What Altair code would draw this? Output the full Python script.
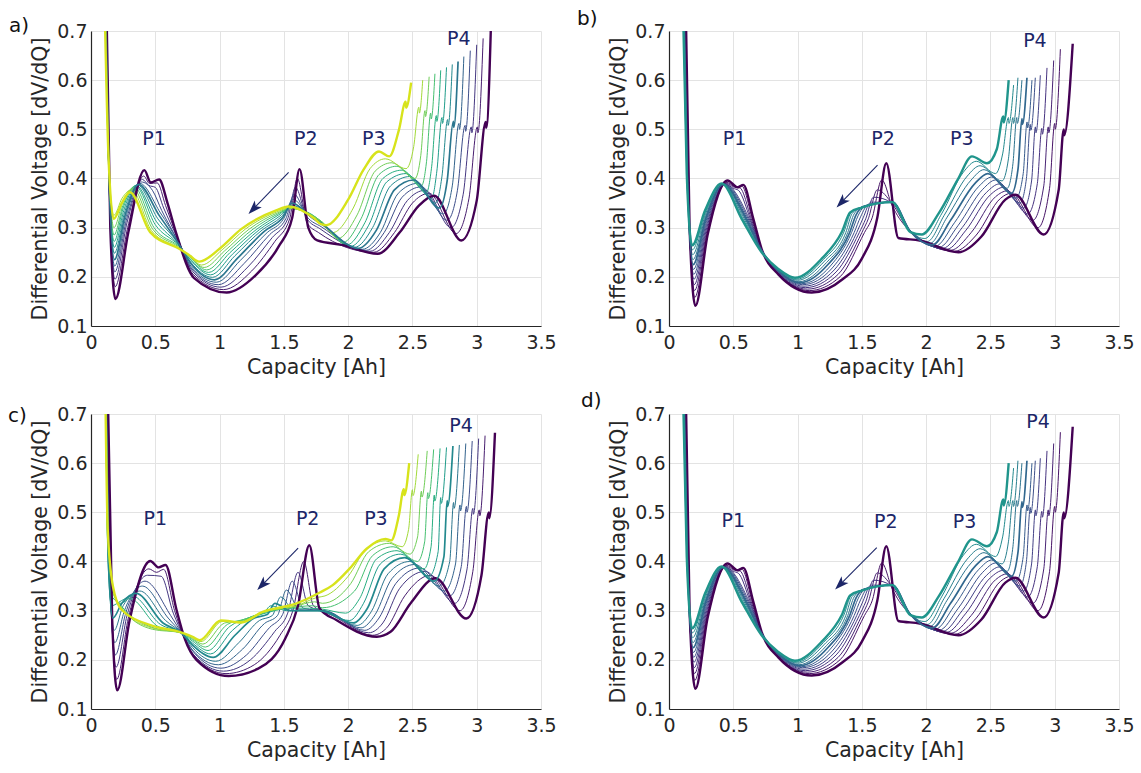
import math
import pandas as pd
import altair as alt

# ----------------------------------------------------------------------------
# Panel a : 13 curves (fresh -> aged), key points
# ----------------------------------------------------------------------------
A_TOP_X  = [0.118, 0.116, 0.114, 0.113, 0.112, 0.111, 0.110, 0.109, 0.108, 0.107, 0.106, 0.105, 0.104]
A_TOP_Y  = [0.78, 0.78, 0.78, 0.78, 0.78, 0.78, 0.78, 0.78, 0.78, 0.78, 0.78, 0.78, 0.78]
A_DROP_X = [0.150, 0.148, 0.146, 0.145, 0.144, 0.143, 0.142, 0.141, 0.140, 0.139, 0.138, 0.137, 0.136]
A_DROP_Y = [0.300, 0.330, 0.345, 0.355, 0.365, 0.375, 0.385, 0.395, 0.405, 0.415, 0.425, 0.435, 0.445]
A_MIN1_X = [0.190, 0.188, 0.186, 0.185, 0.184, 0.183, 0.182, 0.181, 0.180, 0.179, 0.178, 0.177, 0.176]
A_MIN1_Y = [0.155, 0.180, 0.195, 0.210, 0.222, 0.235, 0.248, 0.260, 0.272, 0.285, 0.300, 0.325, 0.318]
A_R1_X   = [0.290, 0.285, 0.280, 0.275, 0.270, 0.265, 0.260, 0.255, 0.250, 0.248, 0.245, 0.242, 0.240]
A_R1_Y   = [0.290, 0.300, 0.310, 0.315, 0.320, 0.325, 0.330, 0.335, 0.340, 0.345, 0.350, 0.360, 0.350]
A_P1_X   = [0.415, 0.410, 0.400, 0.390, 0.380, 0.370, 0.360, 0.350, 0.345, 0.335, 0.325, 0.315, 0.303]
A_P1_Y   = [0.417, 0.405, 0.398, 0.393, 0.390, 0.388, 0.387, 0.386, 0.385, 0.383, 0.380, 0.377, 0.372]
A_SD_X   = [0.465, 0.455, 0.450, None, None, None, None, None, None, None, None, None, None]
A_SD_Y   = [0.392, 0.390, 0.386, None, None, None, None, None, None, None, None, None, None]
A_SP_X   = [0.530, 0.515, 0.500, 0.480, None, None, None, None, None, None, None, None, None]
A_SP_Y   = [0.398, 0.391, 0.382, 0.375, None, None, None, None, None, None, None, None, None]
A_D1_X   = [0.595, 0.580, 0.565, 0.550, 0.540, 0.530, 0.520, 0.510, 0.500, 0.490, 0.480, 0.470, 0.460]
A_D1_Y   = [0.350, 0.345, 0.340, 0.335, 0.330, 0.325, 0.318, 0.312, 0.306, 0.300, 0.297, 0.294, 0.291]
A_D2_X   = [0.660, 0.665, 0.670, 0.670, 0.675, 0.675, 0.680, 0.680, 0.682, 0.684, 0.685, 0.686, 0.686]
A_D2_Y   = [0.291, 0.285, 0.280, 0.276, 0.273, 0.270, 0.268, 0.266, 0.264, 0.262, 0.260, 0.258, 0.257]
A_D3_X   = [0.800, 0.795, 0.790, 0.785, 0.780, 0.780, 0.775, 0.775, 0.770, 0.770, 0.765, 0.760, 0.760]
A_D3_Y   = [0.198, 0.205, 0.211, 0.216, 0.221, 0.226, 0.230, 0.234, 0.237, 0.240, 0.242, 0.244, 0.245]
A_V1_X   = [1.055, 1.030, 1.010, 0.990, 0.975, 0.960, 0.945, 0.930, 0.915, 0.900, 0.880, 0.860, 0.842]
A_V1_Y   = [0.168, 0.174, 0.179, 0.184, 0.189, 0.194, 0.199, 0.204, 0.209, 0.214, 0.219, 0.224, 0.231]
A_R2A_X  = [1.280, 1.250, 1.220, 1.190, 1.160, 1.140, 1.120, 1.100, 1.080, 1.060, 1.040, 1.020, 1.000]
A_R2A_Y  = [0.203, 0.212, 0.220, 0.227, 0.233, 0.238, 0.243, 0.246, 0.249, 0.251, 0.253, 0.255, 0.257]
A_R2B_X  = [1.460, 1.430, 1.410, 1.390, 1.370, 1.350, 1.330, 1.310, 1.290, 1.260, 1.230, 1.200, 1.168]
A_R2B_Y  = [0.262, 0.272, 0.280, 0.286, 0.290, 0.293, 0.295, 0.296, 0.297, 0.297, 0.297, 0.297, 0.297]
A_R2C_X  = [1.565, 1.545, 1.530, 1.515, 1.500, 1.490, 1.480, 1.470, 1.460, 1.455, 1.450, 1.445, 1.440]
A_R2C_Y  = [0.320, 0.318, 0.318, 0.318, 0.319, 0.320, 0.322, 0.324, 0.326, 0.328, 0.330, 0.332, 0.335]
A_P2_X   = [1.622, 1.605, 1.590, 1.580, 1.570, 1.565, 1.560, 1.555, 1.550, 1.548, 1.545, 1.540, 1.537]
A_P2_Y   = [0.419, 0.400, 0.382, 0.368, 0.358, 0.350, 0.345, 0.342, 0.340, 0.339, 0.339, 0.340, 0.343]
A_PP1_X  = [1.690, 1.680, 1.680, 1.680, 1.690, 1.690, 1.700, 1.700, 1.710, 1.710, 1.720, 1.730, 1.740]
A_PP1_Y  = [0.300, 0.310, 0.318, 0.322, 0.325, 0.327, 0.328, 0.328, 0.328, 0.327, 0.325, 0.322, 0.318]
A_PP2_X  = [1.760, 1.770, 1.780, 1.790, 1.800, 1.800, 1.800, 1.800, 1.800, 1.800, 1.800, 1.790, 1.790]
A_PP2_Y  = [0.274, 0.290, 0.298, 0.302, 0.305, 0.307, 0.308, 0.309, 0.310, 0.311, 0.311, 0.309, 0.307]
A_PL_X   = [1.950, None, None, None, None, None, None, None, None, None, None, None, None]
A_PL_Y   = [0.265, None, None, None, None, None, None, None, None, None, None, None, None]
A_V2_X   = [2.230, 2.200, 2.170, 2.140, 2.110, 2.080, 2.050, 2.020, 1.990, 1.960, 1.920, 1.880, 1.830]
A_V2_Y   = [0.247, 0.250, 0.252, 0.254, 0.256, 0.258, 0.260, 0.262, 0.265, 0.270, 0.278, 0.290, 0.305]
A_R3A_X  = [2.400, 2.360, 2.320, 2.280, 2.250, 2.220, 2.190, 2.160, 2.130, 2.100, 2.070, 2.040, 2.000]
A_R3A_Y  = [0.290, 0.290, 0.290, 0.290, 0.290, 0.295, 0.300, 0.305, 0.310, 0.318, 0.326, 0.340, 0.357]
A_R3B_X  = [2.550, 2.500, 2.460, 2.420, 2.390, 2.360, 2.330, 2.300, 2.270, 2.240, 2.210, 2.170, 2.120]
A_R3B_Y  = [0.345, 0.350, 0.355, 0.362, 0.370, 0.377, 0.385, 0.393, 0.400, 0.408, 0.415, 0.420, 0.418]
A_H_X    = [2.670, 2.630, 2.600, 2.570, 2.540, 2.510, 2.480, 2.450, 2.420, 2.380, 2.340, 2.290, 2.240]
A_H_Y    = [0.365, 0.370, 0.376, 0.383, 0.390, 0.397, 0.404, 0.410, 0.417, 0.425, 0.432, 0.440, 0.455]
A_V3_X   = [2.880, 2.840, 2.800, 2.770, 2.740, 2.710, 2.680, 2.650, 2.610, 2.570, 2.520, 2.450, 2.320]
A_V3_Y   = [0.274, 0.288, 0.300, 0.315, 0.328, 0.340, 0.350, 0.360, 0.372, 0.385, 0.400, 0.420, 0.445]
A_R4_X   = [3.000, 2.940, 2.895, 2.850, 2.810, 2.770, 2.730, 2.690, 2.650, 2.610, 2.565, 2.510, 2.395]
A_R4_Y   = [0.355, 0.360, 0.368, 0.376, 0.385, 0.395, 0.405, 0.415, 0.425, 0.435, 0.447, 0.465, 0.499]
A_J_X    = [3.070, 3.005, 2.958, 2.910, 2.862, 2.818, 2.774, 2.730, 2.686, 2.642, 2.598, 2.550, 2.447]
A_J_Y    = [0.515, 0.505, 0.505, 0.508, 0.512, 0.516, 0.520, 0.524, 0.528, 0.533, 0.538, 0.545, 0.556]
A_J2_X   = [3.074, 3.009, 2.962, 2.914, 2.866, 2.822, 2.778, 2.734, 2.690, 2.646, 2.602, 2.554, 2.451]
A_J2_Y   = [0.503, 0.493, 0.493, 0.496, 0.500, 0.504, 0.508, 0.512, 0.516, 0.521, 0.526, 0.533, 0.544]
A_E_X    = [3.118, 3.050, 3.000, 2.950, 2.900, 2.855, 2.810, 2.765, 2.720, 2.675, 2.630, 2.580, 2.490]
A_E_Y    = [0.780, 0.685, 0.672, 0.660, 0.648, 0.638, 0.632, 0.626, 0.620, 0.613, 0.607, 0.600, 0.595]

# ----------------------------------------------------------------------------
# Panel c : 13 curves
# ----------------------------------------------------------------------------
C_TOP_X  = [0.128, 0.125, 0.122, 0.120, 0.118, 0.116, 0.115, 0.114, 0.113, 0.112, 0.112, 0.111, 0.110]
C_TOP_Y  = [0.78, 0.78, 0.78, 0.78, 0.78, 0.78, 0.78, 0.78, 0.78, 0.78, 0.78, 0.78, 0.78]
C_DROP_X = [0.165, 0.160, 0.155, 0.150, 0.145, 0.140, 0.135, 0.130, 0.130, 0.130, 0.130, 0.130, 0.130]
C_DROP_Y = [0.280, 0.300, 0.320, 0.340, 0.360, 0.380, 0.400, 0.420, 0.430, 0.440, 0.450, 0.460, 0.466]
C_MIN1_X = [0.204, 0.200, 0.195, 0.190, 0.185, 0.180, 0.170, 0.160, 0.160, 0.165, 0.170, 0.170, 0.170]
C_MIN1_Y = [0.138, 0.160, 0.185, 0.210, 0.235, 0.260, 0.285, 0.310, 0.330, 0.340, 0.345, 0.350, 0.350]
C_R1_X   = [0.300, 0.290, 0.280, 0.270, 0.260, 0.250, 0.240, 0.235, 0.235, 0.235, 0.235, 0.235, 0.235]
C_R1_Y   = [0.280, 0.285, 0.290, 0.295, 0.300, 0.310, 0.315, 0.320, 0.315, 0.310, 0.307, 0.305, 0.303]
C_P1_X   = [0.461, 0.450, 0.440, 0.420, 0.400, 0.380, 0.350, 0.320, 0.300, None, None, None, None]
C_P1_Y   = [0.401, 0.385, 0.372, 0.360, 0.350, 0.340, 0.335, 0.330, 0.325, None, None, None, None]
C_SD_X   = [0.526, 0.510, None, None, None, None, None, None, None, None, None, None, None]
C_SD_Y   = [0.388, 0.378, None, None, None, None, None, None, None, None, None, None, None]
C_SP_X   = [0.580, 0.565, 0.545, None, None, None, None, None, None, None, None, None, None]
C_SP_Y   = [0.393, 0.384, 0.370, None, None, None, None, None, None, None, None, None, None]
C_D1_X   = [0.664, 0.650, 0.640, 0.620, 0.600, 0.580, 0.560, 0.540, 0.520, 0.500, 0.480, 0.470, 0.469]
C_D1_Y   = [0.303, 0.300, 0.295, 0.290, 0.285, 0.280, 0.275, 0.272, 0.268, 0.264, 0.262, 0.265, 0.270]
C_D2_X   = [0.729, 0.725, 0.720, 0.715, 0.710, 0.710, 0.705, 0.700, 0.700, 0.700, 0.700, 0.700, 0.700]
C_D2_Y   = [0.243, 0.245, 0.248, 0.250, 0.252, 0.253, 0.254, 0.255, 0.255, 0.255, 0.255, 0.255, 0.256]
C_D3_X   = [0.820, 0.810, 0.800, 0.800, 0.790, 0.790, 0.790, 0.790, 0.790, 0.790, 0.790, 0.790, 0.790]
C_D3_Y   = [0.200, 0.205, 0.210, 0.215, 0.220, 0.225, 0.230, 0.234, 0.238, 0.241, 0.243, 0.245, 0.247]
C_V1_X   = [1.070, 1.050, 1.030, 1.010, 0.990, 0.970, 0.950, 0.930, 0.910, 0.890, 0.870, 0.855, 0.845]
C_V1_Y   = [0.167, 0.172, 0.177, 0.183, 0.190, 0.197, 0.205, 0.212, 0.219, 0.226, 0.232, 0.237, 0.240]
C_R2A_X  = [1.300, 1.270, 1.240, 1.210, 1.180, 1.150, 1.120, 1.100, 1.080, 1.060, 1.040, 1.020, 1.010]
C_R2A_Y  = [0.182, 0.190, 0.200, 0.210, 0.222, 0.235, 0.250, 0.260, 0.268, 0.272, 0.275, 0.278, 0.280]
C_R2B_X  = [1.510, 1.470, 1.430, 1.390, 1.350, 1.310, 1.270, 1.250, 1.220, 1.200, 1.180, 1.170, 1.170]
C_R2B_Y  = [0.243, 0.250, 0.258, 0.266, 0.274, 0.280, 0.285, 0.288, 0.285, 0.283, 0.280, 0.278, 0.276]
C_R2C_X  = [1.610, 1.570, 1.530, 1.490, 1.450, 1.410, 1.370, 1.340, 1.330, 1.330, 1.330, 1.330, 1.330]
C_R2C_Y  = [0.310, 0.300, 0.295, 0.292, 0.290, 0.290, 0.292, 0.295, 0.293, 0.295, 0.296, 0.297, 0.297]
C_P2_X   = [1.698, 1.655, 1.610, 1.565, 1.520, 1.475, 1.430, 1.400, 1.550, 1.560, 1.580, 1.600, 1.600]
C_P2_Y   = [0.433, 0.400, 0.378, 0.360, 0.342, 0.328, 0.315, 0.310, 0.305, 0.306, 0.308, 0.310, 0.315]
C_PP1_X  = [1.777, 1.730, 1.690, 1.650, 1.620, 1.580, 1.550, 1.520, 1.700, 1.720, 1.740, 1.760, 1.780]
C_PP1_Y  = [0.305, 0.310, 0.310, 0.305, 0.302, 0.300, 0.300, 0.300, 0.305, 0.310, 0.318, 0.327, 0.337]
C_PL_X   = [1.908, 1.880, 1.860, 1.840, 1.820, 1.800, 1.780, 1.760, 1.800, 1.800, 1.800, 1.820, 1.880]
C_PL_Y   = [0.281, 0.290, 0.295, 0.298, 0.300, 0.300, 0.300, 0.300, 0.303, 0.306, 0.315, 0.330, 0.352]
C_V2_X   = [2.223, 2.190, 2.160, 2.130, 2.100, 2.070, 2.040, 2.010, 1.980, None, None, None, None]
C_V2_Y   = [0.247, 0.250, 0.255, 0.260, 0.265, 0.270, 0.275, 0.280, 0.295, None, None, None, None]
C_R3A_X  = [2.330, 2.300, 2.270, 2.240, 2.210, 2.180, 2.150, 2.120, 2.090, 2.050, 2.020, 2.000, 2.013]
C_R3A_Y  = [0.257, 0.265, 0.275, 0.285, 0.292, 0.298, 0.305, 0.315, 0.325, 0.340, 0.355, 0.370, 0.386]
C_R3B_X  = [2.486, 2.440, 2.400, 2.370, 2.340, 2.310, 2.280, 2.250, 2.220, 2.190, 2.160, 2.140, 2.144]
C_R3B_Y  = [0.315, 0.330, 0.345, 0.355, 0.365, 0.375, 0.385, 0.395, 0.405, 0.412, 0.420, 0.425, 0.426]
C_H_X    = [2.680, 2.640, 2.600, 2.560, 2.520, 2.480, 2.440, 2.410, 2.380, 2.350, 2.320, 2.290, 2.290]
C_H_Y    = [0.366, 0.372, 0.380, 0.387, 0.394, 0.400, 0.408, 0.415, 0.422, 0.430, 0.437, 0.442, 0.446]
C_V3_X   = [2.919, 2.870, 2.830, 2.790, 2.750, 2.710, 2.670, 2.630, 2.590, 2.540, 2.480, 2.420, 2.335]
C_V3_Y   = [0.284, 0.300, 0.315, 0.330, 0.340, 0.350, 0.360, 0.370, 0.385, 0.400, 0.415, 0.430, 0.443]
C_R4_X   = [3.037, 2.970, 2.925, 2.880, 2.835, 2.790, 2.745, 2.700, 2.645, 2.595, 2.540, 2.470, 2.394]
C_R4_Y   = [0.372, 0.380, 0.385, 0.390, 0.395, 0.400, 0.410, 0.420, 0.430, 0.440, 0.450, 0.465, 0.493]
C_J_X    = [3.094, 3.020, 2.970, 2.920, 2.870, 2.820, 2.770, 2.720, 2.670, 2.620, 2.570, 2.500, 2.433]
C_J_Y    = [0.500, 0.505, 0.508, 0.512, 0.515, 0.520, 0.524, 0.530, 0.535, 0.540, 0.543, 0.546, 0.547]
C_J2_X   = [3.098, 3.024, 2.974, 2.924, 2.874, 2.824, 2.774, 2.724, 2.674, 2.624, 2.574, 2.504, 2.437]
C_J2_Y   = [0.488, 0.493, 0.496, 0.500, 0.503, 0.508, 0.512, 0.518, 0.523, 0.528, 0.531, 0.534, 0.535]
C_E_X    = [3.142, 3.065, 3.015, 2.965, 2.915, 2.865, 2.815, 2.765, 2.715, 2.665, 2.615, 2.545, 2.475]
C_E_Y    = [0.662, 0.656, 0.650, 0.645, 0.640, 0.637, 0.635, 0.632, 0.630, 0.628, 0.625, 0.618, 0.600]

# ----------------------------------------------------------------------------
# Panels b and d (same curves) : 12 curves
# ----------------------------------------------------------------------------
B_TOP_X  = [0.128, 0.126, 0.124, 0.122, 0.120, 0.118, 0.116, 0.114, 0.112, 0.110, 0.108, 0.106]
B_TOP_Y  = [0.78, 0.78, 0.78, 0.78, 0.78, 0.78, 0.78, 0.78, 0.78, 0.78, 0.78, 0.78]
B_DROP_X = [0.160, 0.158, 0.156, 0.154, 0.152, 0.150, 0.148, 0.146, 0.144, 0.142, 0.140, 0.138]
B_DROP_Y = [0.300, 0.310, 0.320, 0.330, 0.340, 0.350, 0.360, 0.370, 0.380, 0.390, 0.400, 0.410]
B_MIN1_X = [0.205, 0.200, 0.198, 0.196, 0.194, 0.192, 0.190, 0.188, 0.186, 0.184, 0.182, 0.180]
B_MIN1_Y = [0.141, 0.158, 0.172, 0.184, 0.195, 0.205, 0.215, 0.225, 0.235, 0.245, 0.255, 0.264]
B_R1_X   = [0.300, 0.298, 0.296, 0.294, 0.292, 0.290, 0.288, 0.286, 0.284, 0.282, 0.280, 0.280]
B_R1_Y   = [0.285, 0.290, 0.295, 0.300, 0.305, 0.310, 0.314, 0.318, 0.322, 0.326, 0.330, 0.335]
B_P1_X   = [0.456, 0.450, 0.445, 0.440, 0.436, 0.432, 0.428, 0.424, 0.420, 0.416, 0.412, 0.409]
B_P1_Y   = [0.396, 0.392, 0.390, 0.389, 0.388, 0.388, 0.388, 0.388, 0.388, 0.389, 0.389, 0.390]
B_SD_X   = [0.534, 0.520, 0.510, 0.500, None, None, None, None, None, None, None, None]
B_SD_Y   = [0.382, 0.383, 0.382, 0.380, None, None, None, None, None, None, None, None]
B_SP_X   = [0.578, 0.565, 0.550, 0.540, None, None, None, None, None, None, None, None]
B_SP_Y   = [0.387, 0.385, 0.381, 0.376, None, None, None, None, None, None, None, None]
B_D1_X   = [0.656, 0.648, 0.640, 0.632, 0.624, 0.616, 0.608, 0.600, 0.592, 0.584, 0.575, 0.565]
B_D1_Y   = [0.318, 0.318, 0.318, 0.318, 0.318, 0.318, 0.318, 0.318, 0.318, 0.318, 0.318, 0.318]
B_D2_X   = [0.720, 0.720, 0.720, 0.720, 0.720, 0.720, 0.720, 0.720, 0.720, 0.720, 0.720, 0.720]
B_D2_Y   = [0.257, 0.257, 0.256, 0.256, 0.255, 0.255, 0.254, 0.254, 0.253, 0.252, 0.251, 0.250]
B_D3_X   = [0.850, 0.850, 0.850, 0.850, 0.850, 0.850, 0.850, 0.850, 0.850, 0.850, 0.850, 0.850]
B_D3_Y   = [0.205, 0.206, 0.207, 0.208, 0.209, 0.210, 0.211, 0.212, 0.213, 0.214, 0.215, 0.216]
B_V1_X   = [1.110, 1.090, 1.075, 1.060, 1.050, 1.040, 1.030, 1.020, 1.010, 1.000, 0.990, 0.980]
B_V1_Y   = [0.168, 0.172, 0.175, 0.178, 0.181, 0.184, 0.186, 0.188, 0.190, 0.193, 0.195, 0.198]
B_R2A_X  = [1.350, 1.330, 1.315, 1.300, 1.285, 1.270, 1.255, 1.240, 1.225, 1.210, 1.200, 1.188]
B_R2A_Y  = [0.195, 0.200, 0.205, 0.210, 0.214, 0.218, 0.222, 0.226, 0.229, 0.232, 0.235, 0.237]
B_R2B_X  = [1.500, 1.520, 1.500, 1.480, 1.460, 1.440, 1.420, 1.405, 1.390, 1.375, 1.360, 1.344]
B_R2B_Y  = [0.237, 0.290, 0.290, 0.290, 0.290, 0.290, 0.290, 0.290, 0.290, 0.290, 0.291, 0.291]
B_R2C_X  = [1.620, 1.580, 1.550, 1.530, 1.510, 1.490, 1.470, 1.455, 1.440, 1.425, 1.415, 1.409]
B_R2C_Y  = [0.320, 0.320, 0.318, 0.318, 0.320, 0.322, 0.324, 0.326, 0.328, 0.329, 0.330, 0.331]
B_P2_X   = [1.690, 1.655, 1.620, 1.590, 1.570, 1.550, 1.530, 1.520, 1.510, 1.505, 1.500, 1.500]
B_P2_Y   = [0.431, 0.397, 0.377, 0.362, 0.352, 0.347, 0.345, 0.344, 0.343, 0.342, 0.342, 0.341]
B_PQ_X   = [None, 1.735, 1.738, 1.738, 1.738, 1.738, 1.738, 1.738, 1.738, 1.738, 1.738, 1.736]
B_PQ_Y   = [None, 0.345, 0.348, 0.350, 0.351, 0.352, 0.352, 0.352, 0.352, 0.352, 0.352, 0.352]
B_PP_X   = [1.784, 1.850, 1.860, 1.865, 1.870, 1.870, 1.875, 1.875, 1.875, 1.878, 1.878, 1.878]
B_PP_Y   = [0.279, 0.300, 0.298, 0.297, 0.296, 0.295, 0.294, 0.293, 0.292, 0.292, 0.291, 0.291]
B_PL_X   = [1.950, None, None, None, None, None, None, None, None, None, None, None]
B_PL_Y   = [0.274, None, None, None, None, None, None, None, None, None, None, None]
B_V2_X   = [2.252, 2.220, 2.190, 2.160, 2.130, 2.100, 2.070, 2.050, 2.030, 2.010, 1.990, 1.966]
B_V2_Y   = [0.250, 0.252, 0.254, 0.256, 0.258, 0.260, 0.262, 0.265, 0.268, 0.272, 0.278, 0.286]
B_R3A_X  = [2.430, 2.390, 2.350, 2.310, 2.280, 2.250, 2.220, 2.190, 2.160, 2.140, 2.120, 2.100]
B_R3A_Y  = [0.282, 0.285, 0.290, 0.295, 0.300, 0.305, 0.310, 0.315, 0.320, 0.325, 0.328, 0.330]
B_R3B_X  = [2.616, 2.580, 2.540, 2.500, 2.470, 2.440, 2.410, 2.380, 2.350, 2.320, 2.290, 2.250]
B_R3B_Y  = [0.357, 0.360, 0.363, 0.367, 0.372, 0.378, 0.384, 0.390, 0.397, 0.405, 0.413, 0.400]
B_H_X    = [2.694, 2.660, 2.630, 2.600, 2.570, 2.540, 2.510, 2.480, 2.450, 2.420, 2.390, 2.356]
B_H_Y    = [0.367, 0.370, 0.375, 0.382, 0.389, 0.397, 0.403, 0.410, 0.418, 0.426, 0.435, 0.445]
B_V3_X   = [2.914, 2.870, 2.830, 2.790, 2.760, 2.730, 2.700, 2.665, 2.630, 2.590, 2.540, 2.473]
B_V3_Y   = [0.286, 0.300, 0.315, 0.328, 0.340, 0.350, 0.360, 0.370, 0.380, 0.395, 0.410, 0.431]
B_R4_X   = [3.031, 2.960, 2.915, 2.865, 2.820, 2.780, 2.755, 2.715, 2.675, 2.640, 2.595, 2.550]
B_R4_Y   = [0.377, 0.380, 0.385, 0.390, 0.395, 0.400, 0.410, 0.420, 0.430, 0.440, 0.450, 0.460]
B_J_X    = [3.070, 3.000, 2.950, 2.900, 2.850, 2.810, 2.785, 2.745, 2.705, 2.675, 2.640, 2.600]
B_J_Y    = [0.500, 0.512, 0.505, 0.502, 0.505, 0.510, 0.515, 0.522, 0.524, 0.524, 0.524, 0.526]
B_J2_X   = [3.074, 3.004, 2.954, 2.904, 2.854, 2.814, 2.789, 2.749, 2.709, 2.679, 2.644, 2.604]
B_J2_Y   = [0.488, 0.500, 0.493, 0.490, 0.493, 0.498, 0.503, 0.510, 0.512, 0.512, 0.512, 0.514]
B_E_X    = [3.140, 3.044, 2.992, 2.940, 2.888, 2.849, 2.823, 2.784, 2.745, 2.714, 2.680, 2.642]
B_E_Y    = [0.674, 0.663, 0.640, 0.625, 0.610, 0.605, 0.600, 0.605, 0.600, 0.605, 0.590, 0.600]

# ----------------------------------------------------------------------------
# Annotations
# ----------------------------------------------------------------------------
PEAK_NAMES = ["P1", "P2", "P3", "P4"]
LAB_A_X = [0.49, 1.67, 2.20, 2.86]
LAB_A_Y = [0.480, 0.480, 0.480, 0.684]
LAB_B_X = [0.51, 1.665, 2.277, 2.846]
LAB_B_Y = [0.481, 0.481, 0.481, 0.680]
LAB_C_X = [0.50, 1.685, 2.216, 2.878]
LAB_C_Y = [0.487, 0.487, 0.487, 0.675]
LAB_D_X = [0.50, 1.686, 2.298, 2.870]
LAB_D_Y = [0.483, 0.480, 0.480, 0.683]

ARROW_A = [1.537, 0.4125, 1.225, 0.328]
ARROW_B = [1.622, 0.427, 1.303, 0.341]
ARROW_C = [1.611, 0.427, 1.293, 0.342]
ARROW_D = [1.616, 0.428, 1.292, 0.343]

X_TICKS = [0, 0.5, 1, 1.5, 2, 2.5, 3, 3.5]
Y_TICKS = [0.1, 0.2, 0.3, 0.4, 0.5, 0.6, 0.7]

# ----------------------------------------------------------------------------
FONT = "DejaVu Sans"
NAVY = "#1c2668"
PW, PH = 450, 295
SX = PW / 3.5
SY = PH / 0.6
HEAD = 14
HEAD_PATH = "M0,-1L0.7,1L0,0.5L-0.7,1Z"


def feats(prefix):
    g = globals()
    names = ["TOP", "DROP", "MIN1", "R1", "P1", "SD", "SP", "D1", "D2", "D3", "V1",
             "R2A", "R2B", "R2C", "P2", "PQ", "PP", "PP1", "PP2", "PL", "V2", "R3A",
             "R3B", "H", "V3", "R4", "J", "J2", "E"]
    out = []
    for n in names:
        kx, ky = f"{prefix}_{n}_X", f"{prefix}_{n}_Y"
        if kx in g:
            out.append((g[kx], g[ky]))
    return out


def build_curves(features, tmax, thick, mid):
    n = len(features[0][0])
    rows = []
    for i in range(n):
        pts = sorted((xs[i], ys[i]) for xs, ys in features if xs[i] is not None)
        last = -1.0
        for k, (x, y) in enumerate(pts):
            if x <= last:
                x = last + 0.001
            last = x
            w = 2.4 if i in thick else (1.7 if i == mid else 1.0)
            rows.append({"curve": f"c{i:02d}", "x": x, "y": y,
                         "t": tmax * i / (n - 1), "k": k, "w": w})
    return pd.DataFrame(rows)


XENC = alt.X("x:Q", scale=alt.Scale(domain=[0, 3.5], nice=False, zero=False),
             axis=alt.Axis(values=X_TICKS, format="~g", title="Capacity [Ah]",
                           labelFlush=False, labelOverlap=False, ticks=False,
                           labelPadding=7, titlePadding=5))
YENC = alt.Y("y:Q", scale=alt.Scale(domain=[0.1, 0.7], nice=False, zero=False),
             axis=alt.Axis(values=Y_TICKS, format=".1f",
                           title="Differential Voltage [dV/dQ]",
                           labelFlush=False, labelOverlap=False, ticks=False,
                           labelPadding=4, titlePadding=6))
COLOR = alt.Color("t:Q", scale=alt.Scale(scheme="viridis", domain=[0, 1]), legend=None)


def panel(df, lab_x, lab_y, arrow, letter, ldx, ldy):
    thin = alt.Chart(df[df.w == 1.0]).mark_line(clip=True, interpolate="monotone").encode(
        x=XENC, y=YENC, color=COLOR, detail="curve:N", order="k:Q",
        strokeWidth=alt.StrokeWidth("w:Q", scale=None))
    thick = alt.Chart(df[df.w > 1.0]).mark_line(clip=True, interpolate="monotone").encode(
        x=XENC, y=YENC, color=COLOR, detail="curve:N", order="k:Q",
        strokeWidth=alt.StrokeWidth("w:Q", scale=None))

    labs = pd.DataFrame({"x": lab_x, "y": lab_y, "label": PEAK_NAMES})
    text = alt.Chart(labs).mark_text(font=FONT, fontSize=19, color=NAVY).encode(
        x=XENC, y=YENC, text="label:N")

    x0, y0, x1, y1 = arrow
    dx = (x1 - x0) * SX
    dy = -(y1 - y0) * SY
    L = math.hypot(dx, dy)
    ux, uy = dx / L, dy / L
    ang = math.degrees(math.atan2(dx, -dy)) % 360
    cx = x1 - ux * (HEAD / 2) / SX
    cy = y1 + uy * (HEAD / 2) / SY
    line_df = pd.DataFrame({"x": [x0], "y": [y0], "x2": [cx], "y2": [cy]})
    head_df = pd.DataFrame({"x": [cx], "y": [cy]})
    aline = alt.Chart(line_df).mark_rule(color=NAVY, strokeWidth=1.1).encode(
        x=XENC, y=YENC, x2="x2:Q", y2="y2:Q")
    ahead = alt.Chart(head_df).mark_point(shape=HEAD_PATH, filled=True, size=HEAD * HEAD,
                                          angle=ang, color=NAVY, opacity=1,
                                          strokeWidth=0).encode(x=XENC, y=YENC)

    let = alt.Chart(pd.DataFrame({"s": [letter]})).mark_text(
        font=FONT, fontSize=20, color="#111111", align="left", baseline="top").encode(
        x=alt.value(ldx), y=alt.value(ldy), text="s:N")

    return alt.layer(thin, thick, aline, ahead, text, let).properties(width=PW, height=PH)


df_a = build_curves(feats("A"), 0.94, thick=(0, 12), mid=5)
df_c = build_curves(feats("C"), 0.94, thick=(0, 12), mid=6)
df_b = build_curves(feats("B"), 0.52, thick=(0, 11), mid=7)

pa = panel(df_a, LAB_A_X, LAB_A_Y, ARROW_A, "a)", -82, -15)
pb = panel(df_b, LAB_B_X, LAB_B_Y, ARROW_B, "b)", -92, -22)
pc = panel(df_c, LAB_C_X, LAB_C_Y, ARROW_C, "c)", -83, -8)
pd_ = panel(df_b, LAB_D_X, LAB_D_Y, ARROW_D, "d)", -88, -23)

chart = alt.concat(pa, pb, pc, pd_, columns=2, spacing={"row": 88, "column": 128},
                   bounds="flush").properties(
    padding={"left": 8, "top": 9, "right": 4, "bottom": 2}
).configure_view(stroke=None).configure_axis(
    domainColor="#262626", domainWidth=1.2, gridColor="#e3e3e3", gridWidth=1,
    labelColor="#262626", titleColor="#262626", labelFont=FONT, titleFont=FONT,
    labelFontSize=19, titleFontSize=20.5, titleFontWeight="normal")

chart.save("out.html", embed_options={"renderer": "svg", "actions": False})
